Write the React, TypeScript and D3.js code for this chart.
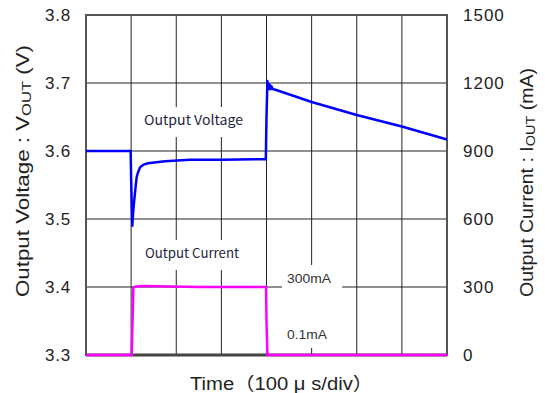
import React from "react";
import * as d3 from "d3";

const divisions = [0, 1, 2, 3, 4, 5, 6, 7, 8];
const voltTicks = [3.3, 3.4, 3.5, 3.6, 3.7, 3.8];
const currTicks = [0, 300, 600, 900, 1200, 1500];

const voltTime = [0, 0.99, 1.0, 1.026, 1.045, 1.07, 1.1, 1.124, 1.16, 1.2, 1.28, 1.374, 1.75, 2.3, 3.0, 3.96, 3.985, 4.0, 4.02, 4.03, 4.045, 4.06, 4.075, 4.09, 4.11, 4.14, 4.2, 5, 6, 7, 8];
const voltValue = [3.6, 3.6, 3.56, 3.49, 3.51, 3.528, 3.548, 3.562, 3.57, 3.576, 3.58, 3.582, 3.585, 3.587, 3.587, 3.588, 3.588, 3.65, 3.703, 3.692, 3.699, 3.691, 3.697, 3.691, 3.695, 3.691, 3.69, 3.672, 3.653, 3.636, 3.617];

const currTime = [0, 1.0, 1.013, 1.05, 1.1, 1.3, 1.6, 2.5, 3.99, 4.0, 4.02, 8];
const currValue = [0.1, 0.1, 0.1, 298, 302, 304, 303, 300, 300, 150, 0.1, 0.1];

export default function App() {
  const left = 86, right = 447, top = 15, bottom = 355;
  const x = d3.scaleLinear().domain([0, 8]).range([left, right]);
  const yV = d3.scaleLinear().domain([3.3, 3.8]).range([bottom, top]);
  const yI = d3.scaleLinear().domain([0, 1500]).range([bottom, top]);

  const vLine = d3.line<number>().x((_, i) => x(voltTime[i])).y((d) => yV(d));
  const iLine = d3.line<number>().x((_, i) => x(currTime[i])).y((d) => yI(d));

  const tickFont = "'Liberation Sans', Arial, 'Noto Sans CJK JP', sans-serif";
  const noteFont = "'Noto Sans CJK JP', 'Noto Sans', sans-serif";

  return (
    <svg width={545} height={393} style={{ position: "absolute", left: 0, top: 0, background: "#fff" }}>
      <rect x={0} y={0} width={545} height={393} fill="#fff" />
      {divisions.slice(1, -1).map((d) => (
        <line key={"v" + d} x1={x(d)} x2={x(d)} y1={top} y2={bottom} stroke="#222" strokeWidth={1} />
      ))}
      {voltTicks.slice(1, -1).map((d) => (
        <line key={"h" + d} x1={left} x2={right} y1={yV(d)} y2={yV(d)} stroke="#222" strokeWidth={1} />
      ))}
      <rect x={140} y={107} width={112} height={30} fill="#fff" />
      <rect x={140} y={240} width={112} height={30} fill="#fff" />
      <rect x={282} y={265} width={60} height={83} fill="#fff" />
      <rect x={left} y={top} width={right - left} height={bottom - top} fill="none" stroke="#555" strokeWidth={2} />
      <line x1={left} x2={right} y1={bottom} y2={bottom} stroke="#444" strokeWidth={3} />
      <path d={iLine(currValue) || ""} fill="none" stroke="#ff00ff" strokeWidth={2.5} strokeLinejoin="round" />
      <path d={vLine(voltValue) || ""} fill="none" stroke="#0000ff" strokeWidth={2.5} strokeLinejoin="round" />
      <text x={144} y={125} fontFamily={noteFont} fontSize={13.5} fill="#1c2540" textLength={99} lengthAdjust="spacingAndGlyphs">Output Voltage</text>
      <text x={145} y={258} fontFamily={noteFont} fontSize={13.5} fill="#1c2540" textLength={94} lengthAdjust="spacingAndGlyphs">Output Current</text>
      <text x={287} y={283} fontFamily={tickFont} fontSize={13.5} fill="#333" textLength={44} lengthAdjust="spacingAndGlyphs">300mA</text>
      <text x={287} y={339} fontFamily={tickFont} fontSize={13.5} fill="#333" textLength={40} lengthAdjust="spacingAndGlyphs">0.1mA</text>
      {voltTicks.map((d) => (
        <text key={"lt" + d} x={71} y={yV(d)} dy="0.36em" textAnchor="end" fontFamily={tickFont} fontSize={17} letterSpacing={0.8} fill="#222">
          {d.toFixed(1)}
        </text>
      ))}
      {currTicks.map((d) => (
        <text key={"rt" + d} x={463} y={yI(d)} dy="0.36em" textAnchor="start" fontFamily={tickFont} fontSize={17} letterSpacing={1} fill="#222">
          {d}
        </text>
      ))}
      <text x={190} y={390} fontFamily={tickFont} fontSize={18} fill="#222" textLength={183} lengthAdjust="spacingAndGlyphs">
        Time（100 μ s/div）
      </text>
      <text transform="translate(29,297) rotate(-90)" fontFamily={tickFont} fontSize={17.5} fill="#222" textLength={252} lengthAdjust="spacingAndGlyphs">
        Output Voltage : V<tspan fontSize={13} dy={2}>OUT</tspan><tspan dy={-2}> (V)</tspan>
      </text>
      <text transform="translate(533,297) rotate(-90)" fontFamily={tickFont} fontSize={17.5} fill="#222" textLength={229} lengthAdjust="spacingAndGlyphs">
        Output Current : I<tspan fontSize={13} dy={2}>OUT</tspan><tspan dy={-2}> (mA)</tspan>
      </text>
    </svg>
  );
}
